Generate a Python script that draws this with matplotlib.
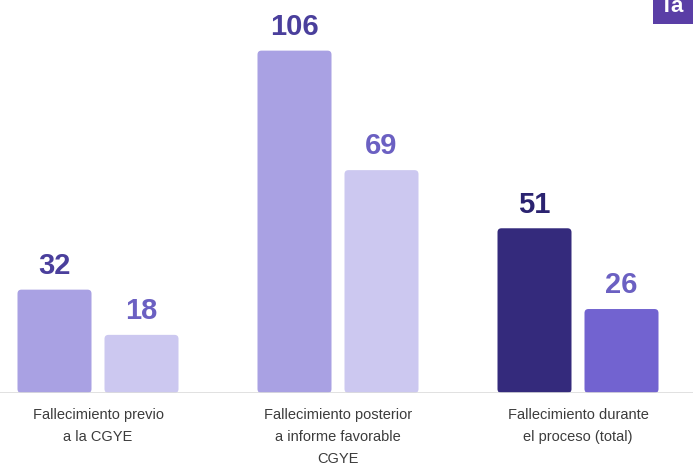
import matplotlib.pyplot as plt
from matplotlib.patches import FancyBboxPatch, Rectangle

plt.rcParams['font.family'] = ['Liberation Sans', 'DejaVu Sans']

# datos
categorias = ['Fallecimiento previo\na la CGYE',
              'Fallecimiento posterior\na informe favorable\nCGYE',
              'Fallecimiento durante\nel proceso (total)']
valores_a = [32, 106, 51]
valores_b = [18, 69, 26]

colores_a = ['#a9a1e3', '#a9a1e3', '#342a7c']
colores_b = ['#ccc8f0', '#ccc8f0', '#7263d0']
etiq_a = ['#4a3f9c', '#4a3f9c', '#2b2370']
etiq_b = ['#6b60c2', '#6b60c2', '#6b60c2']

W, H = 693, 472
fig = plt.figure(figsize=(W / 100, H / 100), dpi=100)
base = 393
ax = fig.add_axes([0, (H - base) / H, 1, base / H])

px_x = 240.0            # pixeles por unidad x
px_y = 3.23             # pixeles por unidad y
ax.set_xlim(-98 / px_x, (W - 98) / px_x)
ax.set_ylim(0, base / px_y)

ancho = 74 / px_x
desp = 87 / 2 / px_x
r = 4 / px_x
aspecto = (4 / px_y) / r


def barra(x, v, color):
    p = FancyBboxPatch((x - ancho / 2, 0), ancho, v,
                       boxstyle=f'round,pad=0,rounding_size={r}',
                       mutation_aspect=aspecto, fc=color, ec='none')
    ax.add_patch(p)


for i, cat in enumerate(categorias):
    xa, xb = i - desp, i + desp
    barra(xa, valores_a[i], colores_a[i])
    barra(xb, valores_b[i], colores_b[i])
    ax.annotate(str(valores_a[i]), (xa, valores_a[i]), xytext=(0, 7),
                textcoords='offset points', ha='center', va='bottom',
                fontsize=21, fontweight='bold', color=etiq_a[i])
    ax.annotate(str(valores_b[i]), (xb, valores_b[i]), xytext=(0, 7),
                textcoords='offset points', ha='center', va='bottom',
                fontsize=21, fontweight='bold', color=etiq_b[i])
    ax.text(i, -4.6, cat, ha='center', va='top', fontsize=10.5,
            color='#3c3c3c', linespacing=1.72, clip_on=False)

ax.axhline(0, color='#dcdcdc', lw=1.2)
ax.axis('off')

# recuadro recortado arriba a la derecha
fig.patches.append(Rectangle((653 / W, 1 - 24 / H), 60 / W, 24 / H,
                             transform=fig.transFigure, fc='#5a3ea6', ec='none'))
fig.text(660 / W, 1 + 4 / H, 'Ta', color='white', fontsize=16,
         fontweight='bold', ha='left', va='top')

fig.savefig('out.png', dpi=100)
